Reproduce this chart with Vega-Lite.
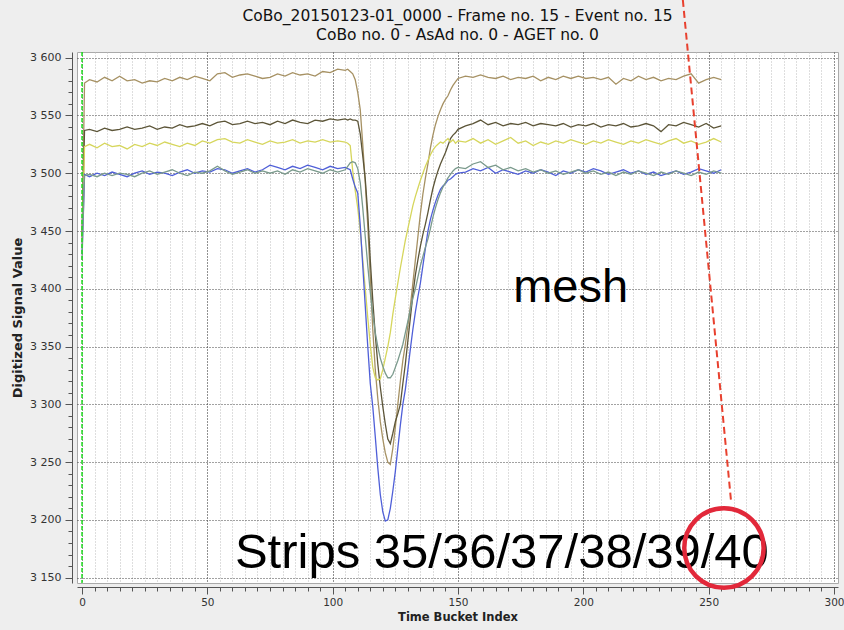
{
  "$schema": "https://vega.github.io/schema/vega-lite/v6.json",
  "width": 761,
  "height": 531,
  "autosize": {"type": "none"},
  "padding": {"left": 77, "top": 52, "right": 6, "bottom": 47},
  "background": "#eeeeee",
  "config": {"view": {"stroke": "#aaaaaa", "fill": "white"}},
  "title": {
    "text": ["CoBo_20150123-01_0000 - Frame no. 15 - Event no. 15", "CoBo no. 0 - AsAd no. 0 - AGET no. 0"],
    "font": "DejaVu Sans", "fontSize": 15.5, "fontWeight": "normal", "color": "#111111",
    "anchor": "middle", "frame": "group", "offset": -63, "lineHeight": 19.5, "baseline": "bottom"
  },
  "datasets": {
    "sig": [
      {"x":0,"T":3440,"O":3445,"Y":3435,"B":3430,"G":3425},
      {"x":1,"T":3578,"O":3537,"Y":3523,"B":3499,"G":3498},
      {"x":3,"T":3581,"O":3538,"Y":3525,"B":3497,"G":3499},
      {"x":6,"T":3579,"O":3536,"Y":3522,"B":3500,"G":3497},
      {"x":9,"T":3583,"O":3539,"Y":3526,"B":3498,"G":3500},
      {"x":12,"T":3580,"O":3537,"Y":3523,"B":3501,"G":3498},
      {"x":15,"T":3584,"O":3538,"Y":3524,"B":3499,"G":3500},
      {"x":18,"T":3580,"O":3540,"Y":3521,"B":3497,"G":3499},
      {"x":21,"T":3581,"O":3538,"Y":3525,"B":3500,"G":3497},
      {"x":24,"T":3578,"O":3539,"Y":3523,"B":3502,"G":3500},
      {"x":27,"T":3580,"O":3541,"Y":3526,"B":3499,"G":3502},
      {"x":30,"T":3579,"O":3538,"Y":3524,"B":3501,"G":3499},
      {"x":33,"T":3582,"O":3540,"Y":3527,"B":3500,"G":3501},
      {"x":36,"T":3580,"O":3539,"Y":3525,"B":3498,"G":3503},
      {"x":39,"T":3583,"O":3542,"Y":3523,"B":3501,"G":3500},
      {"x":42,"T":3581,"O":3540,"Y":3526,"B":3503,"G":3498},
      {"x":45,"T":3584,"O":3541,"Y":3524,"B":3500,"G":3501},
      {"x":48,"T":3582,"O":3543,"Y":3528,"B":3502,"G":3500},
      {"x":51,"T":3580,"O":3541,"Y":3526,"B":3501,"G":3502},
      {"x":54,"T":3586,"O":3544,"Y":3529,"B":3504,"G":3506},
      {"x":57,"T":3587,"O":3545,"Y":3530,"B":3503,"G":3502},
      {"x":60,"T":3583,"O":3542,"Y":3527,"B":3500,"G":3499},
      {"x":63,"T":3585,"O":3543,"Y":3526,"B":3502,"G":3501},
      {"x":66,"T":3586,"O":3545,"Y":3529,"B":3504,"G":3503},
      {"x":69,"T":3584,"O":3543,"Y":3527,"B":3501,"G":3500},
      {"x":72,"T":3582,"O":3544,"Y":3525,"B":3503,"G":3502},
      {"x":75,"T":3583,"O":3542,"Y":3528,"B":3507,"G":3500},
      {"x":78,"T":3586,"O":3545,"Y":3526,"B":3505,"G":3502},
      {"x":81,"T":3584,"O":3543,"Y":3527,"B":3503,"G":3499},
      {"x":84,"T":3587,"O":3546,"Y":3529,"B":3506,"G":3503},
      {"x":87,"T":3585,"O":3544,"Y":3526,"B":3504,"G":3501},
      {"x":90,"T":3586,"O":3543,"Y":3528,"B":3507,"G":3504},
      {"x":93,"T":3584,"O":3546,"Y":3527,"B":3505,"G":3502},
      {"x":96,"T":3588,"O":3545,"Y":3529,"B":3503,"G":3500},
      {"x":99,"T":3587,"O":3547,"Y":3527,"B":3506,"G":3503},
      {"x":102,"T":3590,"O":3546,"Y":3528,"B":3504,"G":3501},
      {"x":105,"T":3589,"O":3547,"Y":3527,"B":3505,"G":3503},
      {"x":106,"T":3590,"O":3546,"Y":3526,"B":3504,"G":3506},
      {"x":107,"T":3588,"O":3547,"Y":3524,"B":3503,"G":3509},
      {"x":108,"T":3586,"O":3546,"Y":3502,"B":3495,"G":3510},
      {"x":109,"T":3581,"O":3546,"Y":3485,"B":3488,"G":3509},
      {"x":110,"T":3570,"O":3545,"Y":3470,"B":3483,"G":3504},
      {"x":111,"T":3555,"O":3534,"Y":3450,"B":3455,"G":3492},
      {"x":112,"T":3525,"O":3515,"Y":3425,"B":3420,"G":3470},
      {"x":113,"T":3492,"O":3495,"Y":3400,"B":3385,"G":3445},
      {"x":114,"T":3455,"O":3465,"Y":3375,"B":3350,"G":3420},
      {"x":115,"T":3410,"O":3425,"Y":3352,"B":3318,"G":3397},
      {"x":116,"T":3365,"O":3390,"Y":3332,"B":3298,"G":3378},
      {"x":117,"T":3330,"O":3360,"Y":3323,"B":3272,"G":3362},
      {"x":118,"T":3305,"O":3335,"Y":3321,"B":3245,"G":3350},
      {"x":119,"T":3285,"O":3315,"Y":3322,"B":3222,"G":3340},
      {"x":120,"T":3270,"O":3298,"Y":3330,"B":3207,"G":3333},
      {"x":121,"T":3258,"O":3283,"Y":3340,"B":3199,"G":3327},
      {"x":122,"T":3250,"O":3270,"Y":3350,"B":3200,"G":3323},
      {"x":123,"T":3248,"O":3266,"Y":3362,"B":3210,"G":3323},
      {"x":124,"T":3262,"O":3275,"Y":3378,"B":3225,"G":3326},
      {"x":125,"T":3280,"O":3285,"Y":3392,"B":3242,"G":3332},
      {"x":126,"T":3300,"O":3292,"Y":3405,"B":3262,"G":3338},
      {"x":127,"T":3320,"O":3300,"Y":3418,"B":3282,"G":3345},
      {"x":128,"T":3338,"O":3318,"Y":3430,"B":3300,"G":3352},
      {"x":129,"T":3352,"O":3335,"Y":3442,"B":3313,"G":3362},
      {"x":130,"T":3368,"O":3355,"Y":3452,"B":3330,"G":3372},
      {"x":131,"T":3385,"O":3375,"Y":3462,"B":3348,"G":3382},
      {"x":132,"T":3405,"O":3395,"Y":3472,"B":3365,"G":3392},
      {"x":133,"T":3425,"O":3412,"Y":3480,"B":3380,"G":3400},
      {"x":134,"T":3445,"O":3425,"Y":3487,"B":3393,"G":3410},
      {"x":135,"T":3465,"O":3437,"Y":3494,"B":3405,"G":3420},
      {"x":136,"T":3482,"O":3447,"Y":3500,"B":3420,"G":3428},
      {"x":137,"T":3496,"O":3456,"Y":3506,"B":3435,"G":3436},
      {"x":138,"T":3508,"O":3466,"Y":3511,"B":3450,"G":3443},
      {"x":139,"T":3522,"O":3477,"Y":3516,"B":3460,"G":3452},
      {"x":140,"T":3533,"O":3487,"Y":3520,"B":3468,"G":3462},
      {"x":141,"T":3542,"O":3495,"Y":3523,"B":3475,"G":3470},
      {"x":142,"T":3549,"O":3502,"Y":3525,"B":3481,"G":3477},
      {"x":143,"T":3555,"O":3508,"Y":3527,"B":3486,"G":3483},
      {"x":144,"T":3560,"O":3513,"Y":3526,"B":3489,"G":3488},
      {"x":145,"T":3564,"O":3518,"Y":3528,"B":3491,"G":3492},
      {"x":146,"T":3567,"O":3524,"Y":3530,"B":3494,"G":3496},
      {"x":147,"T":3572,"O":3530,"Y":3527,"B":3495,"G":3499},
      {"x":148,"T":3576,"O":3533,"Y":3529,"B":3497,"G":3502},
      {"x":149,"T":3579,"O":3535,"Y":3526,"B":3499,"G":3504},
      {"x":150,"T":3582,"O":3538,"Y":3528,"B":3500,"G":3505},
      {"x":153,"T":3584,"O":3541,"Y":3527,"B":3501,"G":3504},
      {"x":156,"T":3583,"O":3543,"Y":3530,"B":3504,"G":3508},
      {"x":159,"T":3585,"O":3546,"Y":3526,"B":3502,"G":3510},
      {"x":162,"T":3583,"O":3542,"Y":3529,"B":3505,"G":3505},
      {"x":165,"T":3582,"O":3544,"Y":3525,"B":3500,"G":3507},
      {"x":168,"T":3584,"O":3541,"Y":3528,"B":3503,"G":3503},
      {"x":171,"T":3581,"O":3543,"Y":3531,"B":3501,"G":3505},
      {"x":174,"T":3583,"O":3542,"Y":3526,"B":3499,"G":3502},
      {"x":177,"T":3582,"O":3544,"Y":3528,"B":3502,"G":3504},
      {"x":180,"T":3584,"O":3541,"Y":3524,"B":3500,"G":3501},
      {"x":183,"T":3580,"O":3543,"Y":3527,"B":3503,"G":3503},
      {"x":186,"T":3583,"O":3542,"Y":3525,"B":3501,"G":3500},
      {"x":189,"T":3581,"O":3541,"Y":3528,"B":3498,"G":3502},
      {"x":192,"T":3584,"O":3543,"Y":3526,"B":3502,"G":3499},
      {"x":195,"T":3582,"O":3540,"Y":3529,"B":3500,"G":3501},
      {"x":198,"T":3584,"O":3542,"Y":3527,"B":3503,"G":3503},
      {"x":201,"T":3582,"O":3541,"Y":3525,"B":3501,"G":3500},
      {"x":204,"T":3583,"O":3543,"Y":3528,"B":3504,"G":3502},
      {"x":207,"T":3581,"O":3540,"Y":3526,"B":3502,"G":3499},
      {"x":210,"T":3583,"O":3542,"Y":3529,"B":3499,"G":3501},
      {"x":213,"T":3577,"O":3541,"Y":3527,"B":3501,"G":3498},
      {"x":216,"T":3582,"O":3543,"Y":3525,"B":3503,"G":3501},
      {"x":219,"T":3580,"O":3540,"Y":3528,"B":3500,"G":3499},
      {"x":222,"T":3584,"O":3541,"Y":3526,"B":3502,"G":3502},
      {"x":225,"T":3581,"O":3543,"Y":3529,"B":3499,"G":3500},
      {"x":228,"T":3583,"O":3541,"Y":3527,"B":3501,"G":3498},
      {"x":231,"T":3580,"O":3536,"Y":3525,"B":3498,"G":3501},
      {"x":234,"T":3582,"O":3542,"Y":3528,"B":3500,"G":3499},
      {"x":237,"T":3581,"O":3541,"Y":3530,"B":3502,"G":3502},
      {"x":240,"T":3584,"O":3544,"Y":3526,"B":3499,"G":3500},
      {"x":243,"T":3586,"O":3542,"Y":3528,"B":3501,"G":3498},
      {"x":246,"T":3578,"O":3540,"Y":3525,"B":3504,"G":3501},
      {"x":249,"T":3581,"O":3543,"Y":3527,"B":3502,"G":3499},
      {"x":252,"T":3583,"O":3539,"Y":3530,"B":3500,"G":3502},
      {"x":255,"T":3581,"O":3541,"Y":3527,"B":3503,"G":3500}
    ],
    "redline": [{"x": 239.7, "v": 3650}, {"x": 258.9, "v": 3217}],
    "circle": [{"x": 256.1, "v": 3175.7}],
    "labels": [
      {"x": 172, "v": 3388.6, "label": "mesh", "size": 47},
      {"x": 61, "v": 3158.4, "label": "Strips 35/36/37/38/39/40", "size": 49}
    ]
  },
  "layer": [
    {
      "data": {"name": "sig"},
      "transform": [{"fold": ["T", "O", "Y", "B", "G"], "as": ["series", "value"]}],
      "mark": {"type": "point", "opacity": 0},
      "encoding": {
        "x": {"field": "x", "type": "quantitative", "scale": {"domain": [-2, 301.6], "nice": false, "zero": false},
          "axis": {"orient": "bottom", "offset": 4, "values": [0,5,10,15,20,25,30,35,40,45,50,55,60,65,70,75,80,85,90,95,100,105,110,115,120,125,130,135,140,145,150,155,160,165,170,175,180,185,190,195,200,205,210,215,220,225,230,235,240,245,250,255,260,265,270,275,280,285,290,295,300],
            "grid": true, "gridColor": "#bcbcbc", "gridDash": [1, 2], "gridWidth": 1, "tickSize": 4, "tickColor": "#555555", "labels": false, "domain": false, "title": null}},
        "y": {"field": "value", "type": "quantitative", "scale": {"domain": [3145.4, 3604.9], "nice": false, "zero": false},
          "axis": {"orient": "left", "offset": 5, "values": [3150,3160,3170,3180,3190,3200,3210,3220,3230,3240,3250,3260,3270,3280,3290,3300,3310,3320,3330,3340,3350,3360,3370,3380,3390,3400,3410,3420,3430,3440,3450,3460,3470,3480,3490,3500,3510,3520,3530,3540,3550,3560,3570,3580,3590,3600],
            "grid": false, "tickSize": 4, "tickColor": "#555555", "labels": false, "domain": false, "title": null}}
      }
    },
    {
      "data": {"name": "sig"},
      "transform": [{"fold": ["T", "O", "Y", "B", "G"], "as": ["series", "value"]}],
      "mark": {"type": "line", "strokeWidth": 1.3, "interpolate": "linear"},
      "encoding": {
        "x": {"field": "x", "type": "quantitative", "scale": {"domain": [-2, 301.6], "nice": false, "zero": false},
          "axis": {"orient": "bottom", "offset": 4, "values": [0, 50, 100, 150, 200, 250, 300], "labelFlush": false, "labelOverlap": false,
            "grid": true, "gridColor": "#444444", "gridDash": [1, 2], "gridWidth": 1, "tickSize": 7, "tickColor": "#555555", "domainColor": "#555555",
            "labelFont": "DejaVu Sans", "labelFontSize": 10.5, "labelColor": "#333333", "labelPadding": 3,
            "title": "Time Bucket Index", "titleFont": "DejaVu Sans", "titleFontSize": 11.5, "titleFontWeight": "bold", "titleColor": "#222222", "titlePadding": 4}},
        "y": {"field": "value", "type": "quantitative", "scale": {"domain": [3145.4, 3604.9], "nice": false, "zero": false},
          "axis": {"orient": "left", "offset": 5, "values": [3150, 3200, 3250, 3300, 3350, 3400, 3450, 3500, 3550, 3600], "labelFlush": false, "labelOverlap": false,
            "labelExpr": "replace(format(datum.value, ','), ',', ' ')",
            "grid": true, "gridColor": "#444444", "gridDash": [1, 2], "gridWidth": 1, "tickSize": 7, "tickColor": "#555555", "domainColor": "#555555",
            "labelFont": "DejaVu Sans", "labelFontSize": 11, "labelColor": "#333333", "labelPadding": 4,
            "title": "Digitized Signal Value", "titleFont": "DejaVu Sans", "titleFontSize": 13, "titleFontWeight": "bold", "titleColor": "#222222", "titlePadding": 5}},
        "color": {"field": "series", "type": "nominal", "legend": null,
          "scale": {"domain": ["T", "O", "Y", "G", "B"], "range": ["#a69163", "#5c5538", "#d6d65c", "#7a9a8c", "#4f5fd8"]}}
      }
    },
    {
      "data": {"values": [{}]},
      "mark": {"type": "rule", "color": "#22dd22", "strokeDash": [4, 2], "strokeWidth": 1.5},
      "encoding": {
        "x": {"datum": 0, "type": "quantitative", "scale": {"domain": [-2, 301.6], "nice": false, "zero": false}, "axis": null}
      }
    },
    {
      "data": {"name": "redline"},
      "mark": {"type": "line", "color": "#e8402e", "strokeDash": [7, 4], "strokeWidth": 2, "clip": false},
      "encoding": {
        "x": {"field": "x", "type": "quantitative", "scale": {"domain": [-2, 301.6], "nice": false, "zero": false}, "axis": null},
        "y": {"field": "v", "type": "quantitative", "scale": {"domain": [3145.4, 3604.9], "nice": false, "zero": false}, "axis": null}
      }
    },
    {
      "data": {"name": "labels"},
      "mark": {"type": "text", "font": "Liberation Sans", "align": "left", "baseline": "alphabetic", "color": "#000000", "clip": false},
      "encoding": {
        "x": {"field": "x", "type": "quantitative", "scale": {"domain": [-2, 301.6], "nice": false, "zero": false}, "axis": null},
        "y": {"field": "v", "type": "quantitative", "scale": {"domain": [3145.4, 3604.9], "nice": false, "zero": false}, "axis": null},
        "size": {"field": "size", "type": "quantitative", "scale": null},
        "text": {"field": "label"}
      }
    },
    {
      "data": {"name": "circle"},
      "mark": {"type": "point", "shape": "circle", "filled": false, "size": 6300, "stroke": "#e2283a", "strokeWidth": 4.5, "opacity": 1, "clip": false},
      "encoding": {
        "x": {"field": "x", "type": "quantitative", "scale": {"domain": [-2, 301.6], "nice": false, "zero": false}, "axis": null},
        "y": {"field": "v", "type": "quantitative", "scale": {"domain": [3145.4, 3604.9], "nice": false, "zero": false}, "axis": null}
      }
    }
  ],
  "resolve": {"axis": {"x": "independent", "y": "independent"}}
}
